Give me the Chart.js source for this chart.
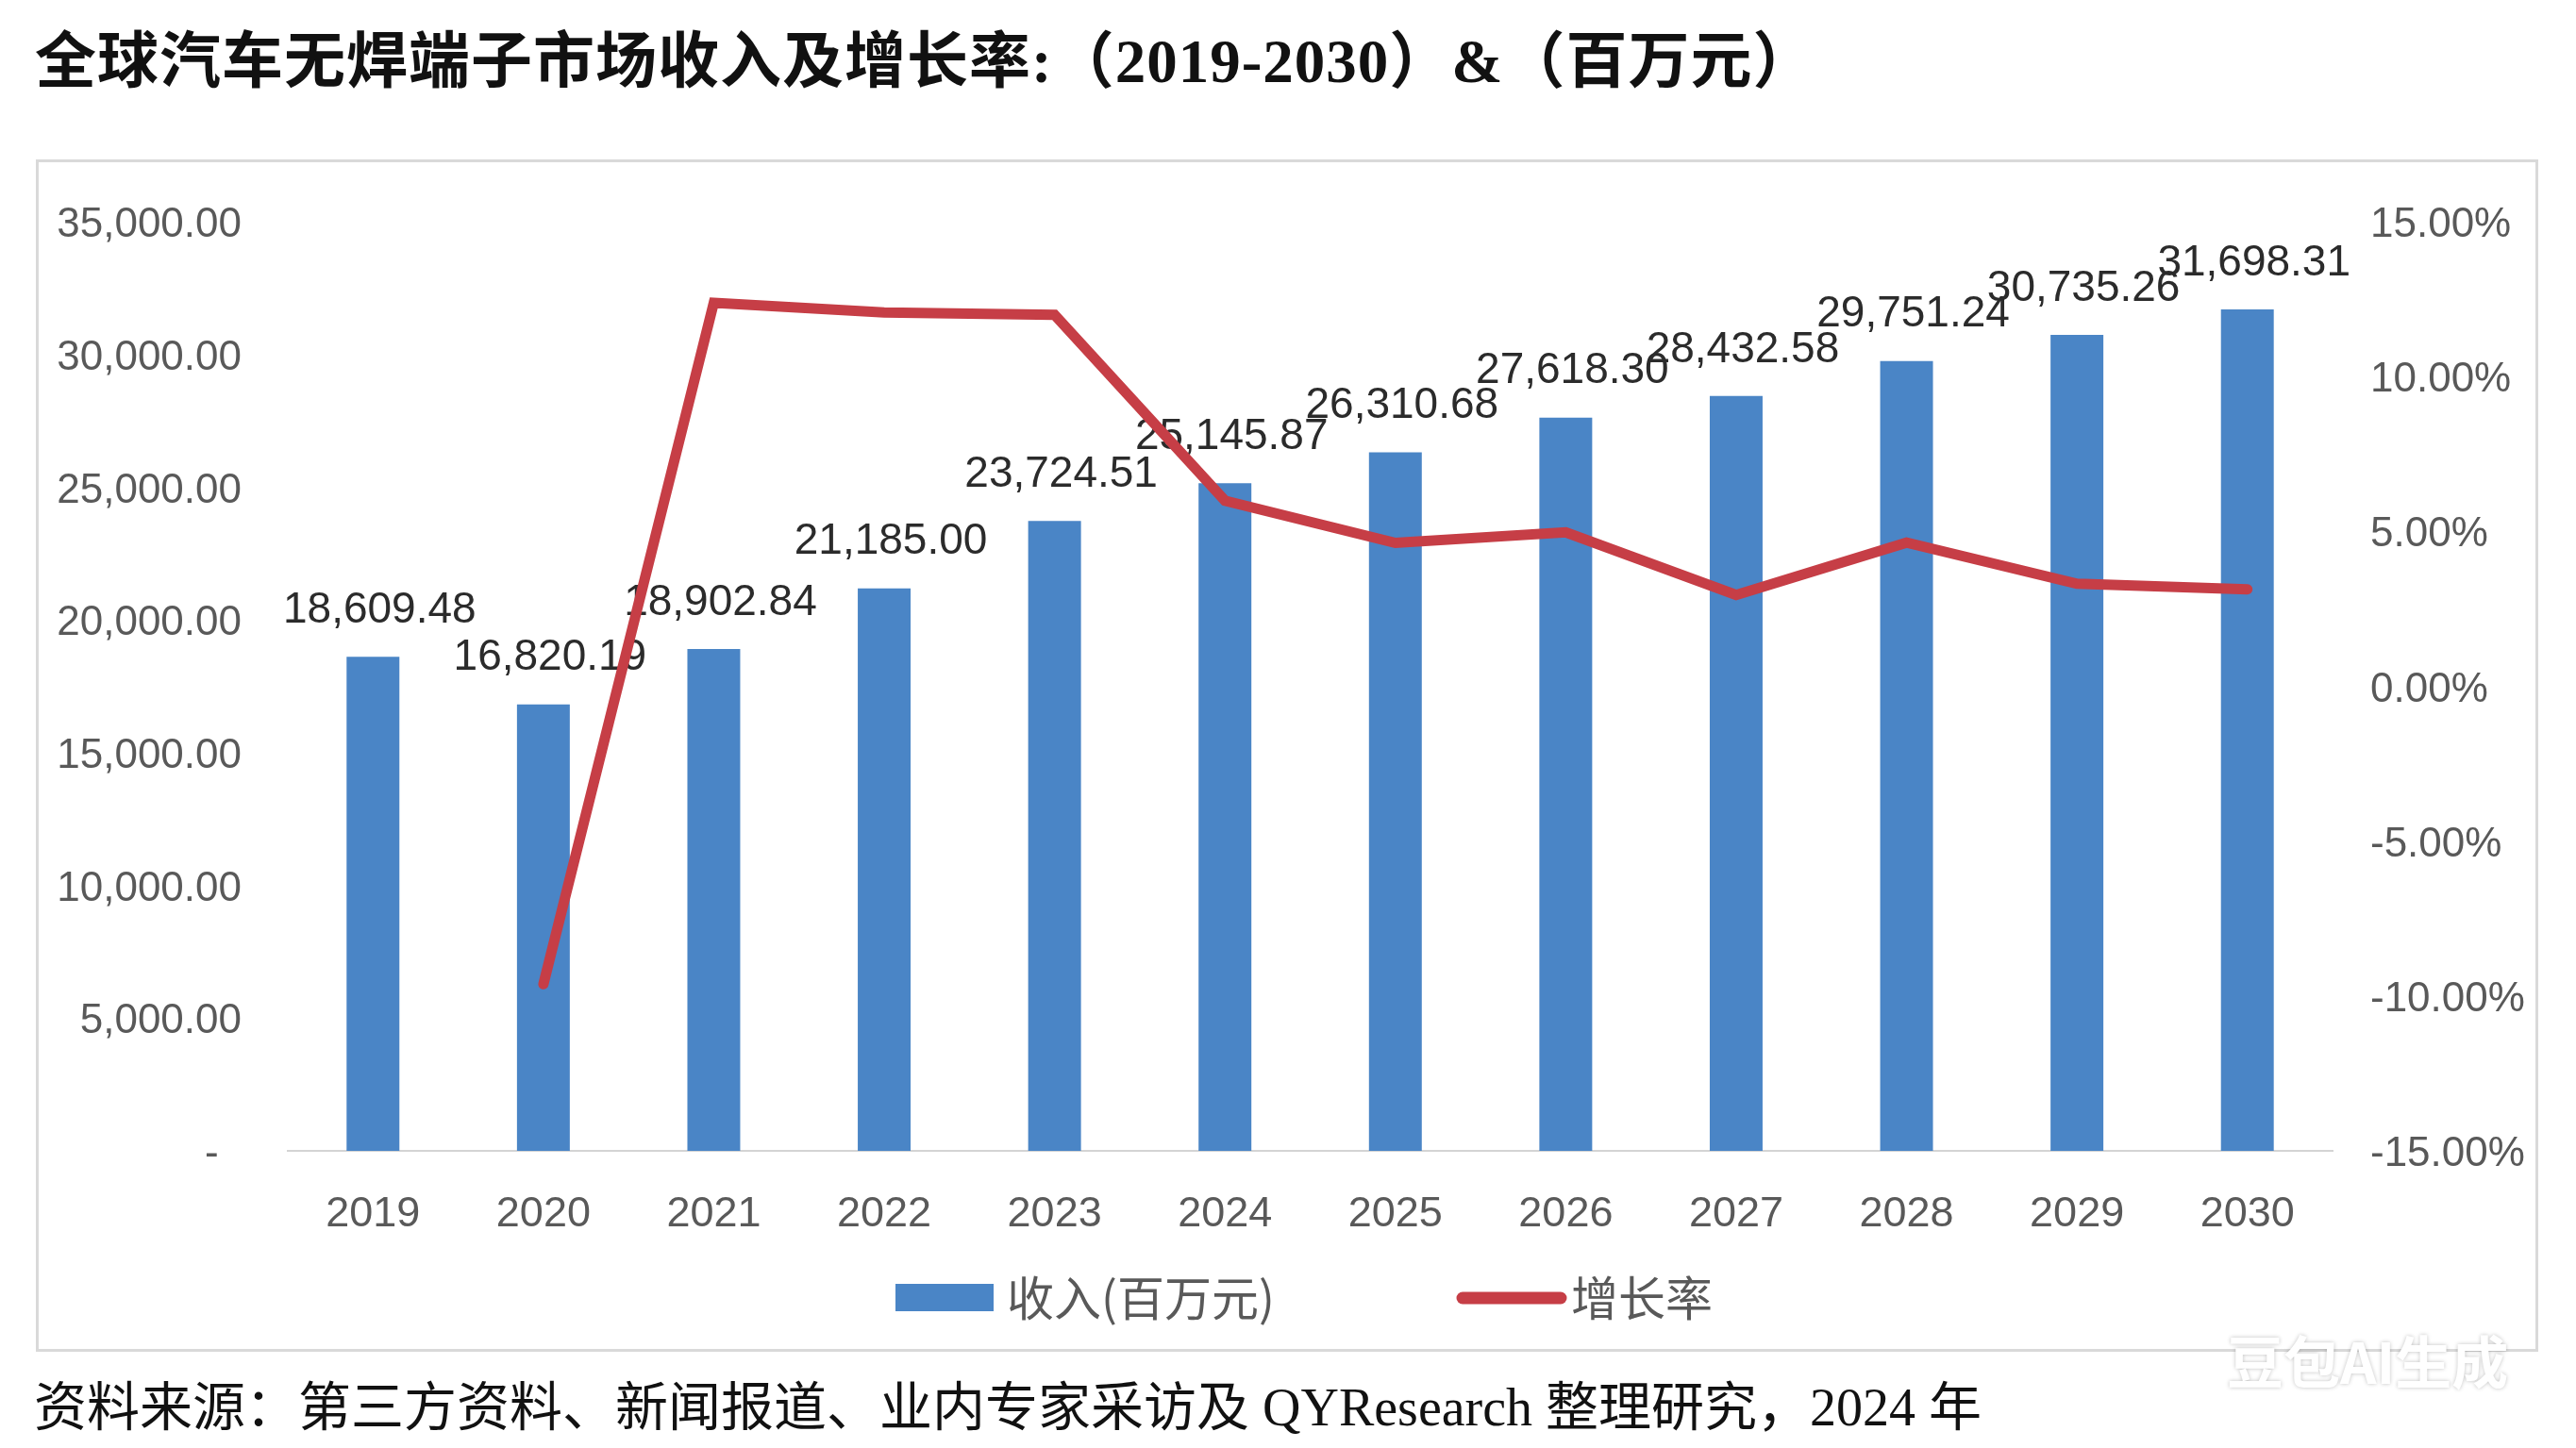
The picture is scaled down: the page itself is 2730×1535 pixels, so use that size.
<!DOCTYPE html>
<html>
<head>
<meta charset="utf-8">
<script src="https://cdn.jsdelivr.net/npm/chart.js@4.4.1/dist/chart.umd.min.js"></script>
<style>
  body { margin: 0; background: #ffffff; width: 2730px; height: 1535px; overflow: hidden; position: relative; }
  #chart { position: absolute; left: 0; top: 0; }
  .frame { position: absolute; left: 38px; top: 169px; width: 2652px; height: 1264px; box-sizing: border-box;
           border: 3px solid #d9d9d9; pointer-events: none; }
  .title { position: absolute; left: 37px; top: 33px; font: bold 65px "Liberation Serif", "Noto Sans CJK SC"; line-height: 65px;
           letter-spacing: 1px; color: #111; white-space: nowrap; }
  .source { position: absolute; left: 36px; top: 1462px; font: 56px "Liberation Serif", "Noto Sans CJK SC"; line-height: 60px;
            color: #111; white-space: nowrap; }
  .mark { position: absolute; left: 2360px; top: 1410px; font: bold 60px "Noto Sans CJK SC"; line-height: 62px; color: #ffffff;
          text-shadow: 0 0 4px rgba(0,0,0,0.25); white-space: nowrap; }
</style>
</head>
<body>
<canvas id="chart" width="2730" height="1535"></canvas>
<div class="frame"></div>
<div class="title">全球汽车无焊端子市场收入及增长率:（2019-2030）&amp;（百万元）</div>
<div class="source">资料来源：第三方资料、新闻报道、业内专家采访及 QYResearch 整理研究，2024 年</div>
<div class="mark">豆包AI生成</div>
<script>
// data.....................
var years = ["2019", "2020", "2021", "2022", "2023", "2024", "2025", "2026", "2027", "2028", "2029", "2030"];
var revenue = [18609.48, 16820.19, 18902.84, 21185.00, 23724.51, 25145.87, 26310.68, 27618.30, 28432.58, 29751.24, 30735.26, 31698.31];
var growth = [null, -9.62, 12.38, 12.07, 11.99, 5.99, 4.63, 4.97, 2.95, 4.64, 3.31, 3.13];
var seriesNames = ["收入(百万元)", "增长率"];
var leftAxis = { min: 0, max: 35000, step: 5000 };
var rightAxis = { min: -15, max: 15, step: 5 };

var barColor = "#4A85C6";
var lineColor = "#C63E46";
var tickColor = "#595959";

function money(v) {
  return v.toLocaleString("en-US", { minimumFractionDigits: 2, maximumFractionDigits: 2 });
}

// value labels above bars, drawn before the line so the line crosses them
var barLabels = {
  id: "barLabels",
  afterDatasetDraw(chart, args) {
    if (args.index !== 0) return;
    var ctx = chart.ctx;
    ctx.save();
    ctx.font = '46px "Liberation Sans"';
    ctx.fillStyle = "#2b2b2b";
    ctx.textAlign = "center";
    ctx.textBaseline = "middle";
    args.meta.data.forEach(function (bar, i) {
      ctx.fillText(money(revenue[i]), bar.x + 7, bar.y - 49);
    });
    ctx.restore();
  }
};

// legend at the bottom.............
var bottomLegend = {
  id: "bottomLegend",
  afterDraw(chart) {
    var ctx = chart.ctx;
    ctx.save();
    ctx.fillStyle = barColor;
    ctx.fillRect(949, 1361, 104, 29);
    ctx.strokeStyle = lineColor;
    ctx.lineWidth = 13;
    ctx.lineCap = "round";
    ctx.beginPath();
    ctx.moveTo(1550, 1376);
    ctx.lineTo(1654, 1376);
    ctx.stroke();
    ctx.font = '50px "Noto Sans CJK SC"';
    ctx.fillStyle = tickColor;
    ctx.textBaseline = "middle";
    ctx.fillText(seriesNames[0], 1067, 1376);
    ctx.fillText(seriesNames[1], 1665, 1376);
    ctx.restore();
  }
};

new Chart("chart", {
  type: "bar",
  data: {
    labels: years,
    datasets: [{
      type: "bar",
      label: seriesNames[0],
      data: revenue,
      yAxisID: "y",
      backgroundColor: barColor,
      barPercentage: 0.31,
      categoryPercentage: 1,
      order: 1
    }, {
      type: "line",
      label: seriesNames[1],
      data: growth,
      yAxisID: "y1",
      borderColor: lineColor,
      borderWidth: 11,
      borderCapStyle: "round",
      borderJoinStyle: "miter",
      pointRadius: 0,
      tension: 0,
      order: 0
    }]
  },
  options: {
    responsive: false,
    animation: false,
    devicePixelRatio: 1,
    layout: { padding: { top: 235, left: 0, right: 0, bottom: 0 } },
    plugins: {
      legend: { display: false },
      tooltip: { enabled: false }
    },
    scales: {
      x: {
        grid: { display: false, drawTicks: false, tickLength: 0 },
        border: { display: true, color: "#d4d4d4", width: 2 },
        ticks: { color: tickColor, font: { family: "Liberation Sans", size: 45 }, padding: 41, maxRotation: 0 },
        afterFit: function (s) { s.height = 315; }
      },
      y: {
        position: "left",
        min: leftAxis.min,
        max: leftAxis.max,
        grid: { display: false, drawTicks: false, tickLength: 0 },
        border: { display: false },
        ticks: {
          stepSize: leftAxis.step,
          color: tickColor,
          font: { family: "Liberation Sans", size: 44 },
          padding: 49,
          labelOffset: 4,
          callback: function (v) { return v === 0 ? "-  " : money(v); }
        },
        afterFit: function (s) { s.width = 305; }
      },
      y1: {
        position: "right",
        min: rightAxis.min,
        max: rightAxis.max,
        grid: { display: false, drawTicks: false, tickLength: 0 },
        border: { display: false },
        ticks: {
          stepSize: rightAxis.step,
          color: tickColor,
          font: { family: "Liberation Sans", size: 44 },
          padding: 40,
          labelOffset: 4,
          callback: function (v) { return v.toFixed(2) + "%"; }
        },
        afterFit: function (s) { s.width = 258; }
      }
    }
  },
  plugins: [barLabels, bottomLegend]
});
</script>
</body>
</html>
